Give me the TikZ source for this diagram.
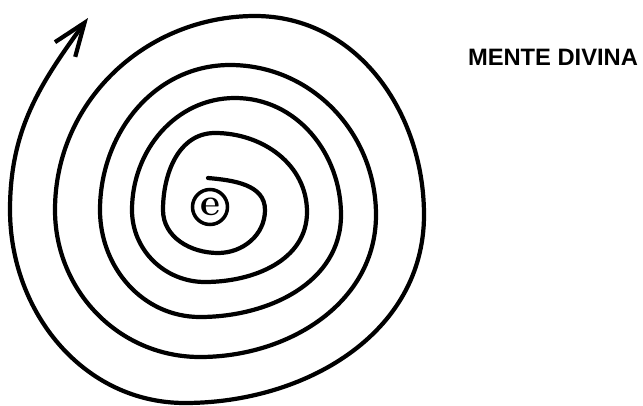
\documentclass[tikz,border=0pt]{standalone}
\usepackage{fontspec}
\usepackage{tikz}
\usetikzlibrary{arrows.meta,shapes}
\newfontfamily\labelfont{Liberation Sans}

\begin{document}
\begin{tikzpicture}[x=0.02cm,y=-0.02cm,
    spiralline/.style={line width=2.4pt,line cap=round,line join=round},
    toright/.style={out=0,in=90},
    tobottom/.style={out=-90,in=0},
    toleft/.style={out=180,in=-90},
    totop/.style={out=90,in=180},
    seedcircle/.style={draw,circle,line width=2pt,inner sep=0pt,minimum size=0.7cm,font=\bfseries\fontsize{22}{22}\selectfont},
    titletext/.style={font=\labelfont\bfseries\fontsize{13.5}{16}\selectfont}]
    \useasboundingbox (0,0) rectangle (643,406);

    % Seed at the centre
    \node[seedcircle] (seed) at (210,207) {e};

    % Spiral, growing outwards clockwise
    \draw[spiralline,-{Straight Barb[length=0.66cm,width=0.5cm]}]
        (208,178) to[out=-5,in=90] (265,210)
        to[tobottom] (218,253) to[toleft] (163,210) to[totop] (215,133)
        to[toright] (307,212) to[tobottom] (205,282) to[toleft] (132,210) to[totop] (235,98)
        to[toright] (341,215) to[tobottom] (200,317) to[toleft] (100,210) to[totop] (230,65)
        to[toright] (376,215) to[tobottom] (200,357) to[toleft] (55,210) to[totop] (255,16)
        to[toright] (424,215) to[tobottom] (185,403) to[toleft] (10,210)
        to[out=90,in=234] (88,18);

    % Label
    \node[titletext] (mente) at (553,57) {MENTE DIVINA};
\end{tikzpicture}
\end{document}
